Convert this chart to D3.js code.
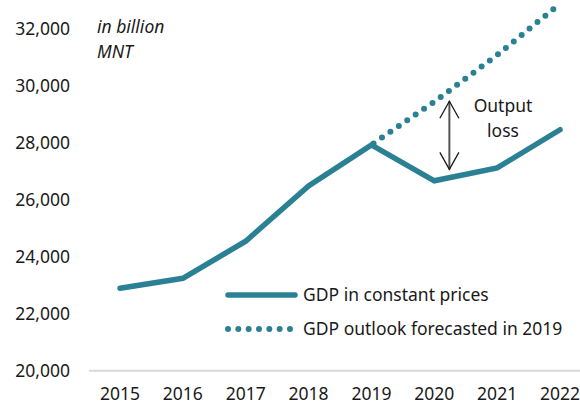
<!DOCTYPE html>
<html>
<head>
<script src="https://d3js.org/d3.v7.min.js"></script>
<style>
  body { margin: 0; background: #fff; }
  svg text { font-family: "Noto Sans", "Open Sans", sans-serif; fill: #1a1a1a; font-size: 17.5px; }
</style>
</head>
<body>
<div id="chart"></div>
<script>
// data (billion MNT)
var years = [2015, 2016, 2017, 2018, 2019, 2020, 2021, 2022];
var gdpActual = [22890, 23240, 24540, 26480, 27920, 26660, 27110, 28450];
var outlookYears = [2019, 2020, 2021, 2022];
var gdpOutlook = [27920, 29430, 31070, 32870];
var yTicks = [20000, 22000, 24000, 26000, 28000, 30000, 32000];
var legendLabels = ["GDP in constant prices", "GDP outlook forecasted in 2019"];

var W = 580, H = 405;
var teal = "#2b8194";

var svg = d3.select("#chart").append("svg")
  .attr("width", W).attr("height", H);

var x = d3.scaleLinear().domain([2015, 2022]).range([120, 560]);
var y = d3.scaleLinear().domain([20000, 32000]).range([370.7, 28.5]);

// baseline
svg.append("line")
  .attr("x1", 89).attr("x2", 580)
  .attr("y1", y(20000)).attr("y2", y(20000))
  .attr("stroke", "#d9d9d9").attr("stroke-width", 2);

// y labels
svg.append("g").selectAll("text")
  .data(yTicks).enter().append("text")
  .attr("x", 70).attr("y", function(d) { return y(d); })
  .attr("dy", "0.35em")
  .attr("text-anchor", "end")
  .text(d3.format(","));

// x labels
svg.append("g").selectAll("text")
  .data(years).enter().append("text")
  .attr("x", function(d) { return x(d); })
  .attr("y", 400)
  .attr("text-anchor", "middle")
  .text(function(d) { return d; });

// unit label
var unit = svg.append("text")
  .attr("y", 33)
  .style("font-style", "italic");
unit.append("tspan").attr("x", 97).text("in billion");
unit.append("tspan").attr("x", 97).attr("dy", 25).text("MNT");

// outlook dotted line
var line = d3.line()
  .x(function(d) { return x(d[0]); })
  .y(function(d) { return y(d[1]); });

svg.append("path")
  .datum(d3.zip(outlookYears, gdpOutlook))
  .attr("d", line)
  .attr("fill", "none")
  .attr("stroke", teal)
  .attr("stroke-width", 6)
  .attr("stroke-linecap", "round")
  .attr("stroke-dasharray", "0 10.2")
  .attr("stroke-dashoffset", -2.6);

// actual line
svg.append("path")
  .datum(d3.zip(years, gdpActual))
  .attr("d", line)
  .attr("fill", "none")
  .attr("stroke", teal)
  .attr("stroke-width", 5.5)
  .attr("stroke-linejoin", "miter")
  .attr("stroke-linecap", "round");

// output loss arrow
var ax = x(2020.24);
var yTop = y(29450), yBot = y(27060);
svg.append("line")
  .attr("x1", ax).attr("x2", ax).attr("y1", yTop).attr("y2", yBot)
  .attr("stroke", "#555").attr("stroke-width", 2);
svg.append("path")
  .attr("d", "M" + (ax - 9.5) + "," + (yTop + 17) + "L" + ax + "," + yTop + "L" + (ax + 9.5) + "," + (yTop + 17))
  .attr("fill", "none").attr("stroke", "#1a1a1a").attr("stroke-width", 1.3);
svg.append("path")
  .attr("d", "M" + (ax - 9.5) + "," + (yBot - 17) + "L" + ax + "," + yBot + "L" + (ax + 9.5) + "," + (yBot - 17))
  .attr("fill", "none").attr("stroke", "#1a1a1a").attr("stroke-width", 1.3);

var ol = svg.append("text")
  .attr("text-anchor", "middle");
ol.append("tspan").attr("x", 503).attr("y", 112).text("Output");
ol.append("tspan").attr("x", 503).attr("y", 137).text("loss");

// legend
var lg = svg.append("g");
lg.append("line")
  .attr("x1", 228).attr("x2", 295).attr("y1", 295).attr("y2", 295)
  .attr("stroke", teal).attr("stroke-width", 5.5).attr("stroke-linecap", "round");
lg.append("line")
  .attr("x1", 228).attr("x2", 290).attr("y1", 329).attr("y2", 329)
  .attr("stroke", teal).attr("stroke-width", 6)
  .attr("stroke-linecap", "round").attr("stroke-dasharray", "0 10.33");
lg.selectAll("text")
  .data(legendLabels).enter().append("text")
  .attr("x", 303)
  .attr("y", function(d, i) { return 301 + i * 34; })
  .text(function(d) { return d; });
</script>
</body>
</html>
